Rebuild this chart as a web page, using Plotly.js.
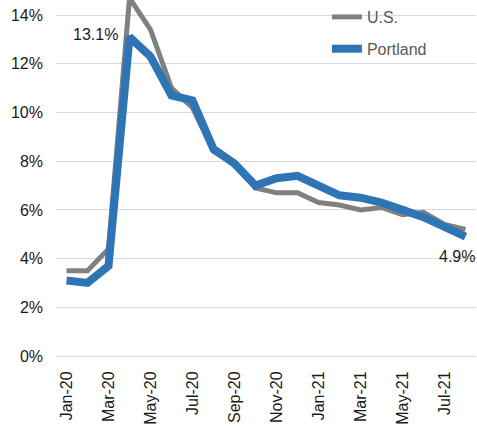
<!DOCTYPE html>
<html>
<head>
<meta charset="utf-8">
<script src="https://cdn.plot.ly/plotly-3.0.1.min.js"></script>
<style>html,body{margin:0;padding:0;background:#fff;}#chart{width:477px;height:426px;}</style>
</head>
<body>
<div id="chart"></div>
<script>
const months = ["Jan-20","Feb-20","Mar-20","Apr-20","May-20","Jun-20","Jul-20","Aug-20","Sep-20","Oct-20","Nov-20","Dec-20","Jan-21","Feb-21","Mar-21","Apr-21","May-21","Jun-21","Jul-21","Aug-21"];
const usRate = [3.5,3.5,4.4,14.7,13.4,11.0,10.2,8.4,7.9,6.9,6.7,6.7,6.3,6.2,6.0,6.1,5.8,5.9,5.4,5.2];
const portlandRate = [3.1,3.0,3.7,13.1,12.3,10.7,10.5,8.5,7.9,7.0,7.3,7.4,7.0,6.6,6.5,6.3,6.0,5.7,5.3,4.9];
const seriesNames = ["U.S.","Portland"];
const tickLabels = months.filter((m,i)=>i%2===0);
const yTicks = [0,2,4,6,8,10,12,14];
const boundaryTicks = months.map((m,i)=>i-0.5).concat([months.length-0.5]).filter((v,i)=>i%2===0);

const font = "Liberation Sans, Arial, sans-serif";
const traces = [
  {x: months, y: usRate, name: seriesNames[0], type:"scatter", mode:"lines",
   line:{color:"#808080", width:5}, legendgroup:"a", cliponaxis:true, hoverinfo:"skip"},
  {x: months, y: portlandRate, name: seriesNames[1], type:"scatter", mode:"lines",
   line:{color:"#2e75b6", width:8}, legendgroup:"b", cliponaxis:true, hoverinfo:"skip"}
];
const pkIdx = portlandRate.indexOf(Math.max(...portlandRate));
const lastIdx = portlandRate.length-1;
const layout = {
  width:477, height:426,
  margin:{l:56, r:1, t:0, b:70},
  paper_bgcolor:"#fff", plot_bgcolor:"#fff",
  font:{family:font, size:16, color:"#1a1a1a"},
  showlegend:true,
  legend:{x:0.645, y:1, xanchor:"left", yanchor:"top", bgcolor:"rgba(0,0,0,0)",
    font:{family:font, size:16, color:"#595959"}, traceorder:"grouped", tracegroupgap:8},
  shapes:[
    {type:"rect", xref:"paper", yref:"paper", x0:(279-56)/420, x1:(461-56)/420, y0:1-66/356, y1:1,
     fillcolor:"#fff", line:{width:0}, layer:"between"}
  ],
  xaxis:{type:"category", range:[-0.5, months.length-0.5], tickmode:"array", tickvals:tickLabels,
    ticktext:tickLabels, tickangle:-90, ticks:"", showgrid:false, showline:true, linecolor:"#d9d9d9",
    linewidth:1, zeroline:false, tickfont:{family:font, size:16, color:"#1a1a1a"}, ticklabelstandoff:8},
  xaxis2:{overlaying:"x", anchor:"y", side:"bottom", range:[-0.5, months.length-0.5], tickmode:"array",
    tickvals:boundaryTicks, ticks:"outside", ticklen:5, tickcolor:"#d9d9d9", showticklabels:false,
    showgrid:false, zeroline:false, showline:false},
  yaxis:{range:[0,14.62], tickmode:"array", tickvals:yTicks, ticktext:yTicks.map(v=>v+"%"),
    showgrid:true, gridcolor:"#d9d9d9", gridwidth:1, zeroline:false, ticks:"", showline:false,
    tickfont:{family:font, size:16, color:"#1a1a1a"}, ticklabelstandoff:12},
  annotations:[
    {x: months[pkIdx], y: portlandRate[pkIdx], xref:"x", yref:"y", text: portlandRate[pkIdx].toFixed(1)+"%",
     showarrow:false, xanchor:"right", yanchor:"middle", xshift:-10, yshift:3,
     font:{family:font, size:16, color:"#1a1a1a"}},
    {x: months[lastIdx], y: portlandRate[lastIdx], xref:"x", yref:"y", text: portlandRate[lastIdx].toFixed(1)+"%",
     showarrow:false, xanchor:"center", yanchor:"top", xshift:-9, yshift:-9,
     font:{family:font, size:16, color:"#1a1a1a"}}
  ]
};
Plotly.newPlot("chart", traces, layout, {staticPlot:true, displayModeBar:false});
</script>
</body>
</html>
